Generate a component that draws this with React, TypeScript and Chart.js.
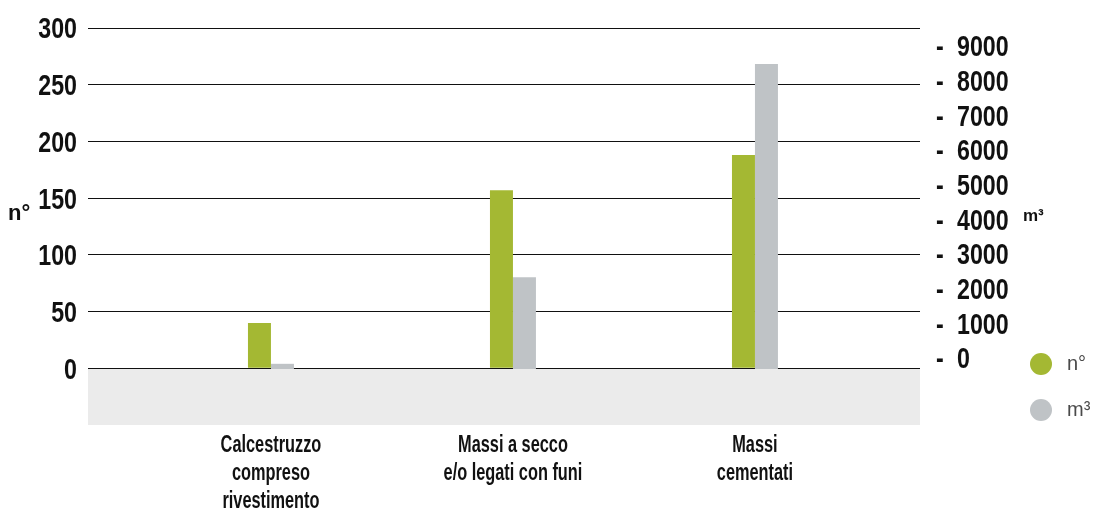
import React, { useEffect, useRef } from "react";
import { Chart, registerables } from "chart.js";

Chart.register(...registerables);

const categories: string[][] = [
  ["Calcestruzzo", "compreso", "rivestimento"],
  ["Massi a secco", "e/o legati con funi"],
  ["Massi", "cementati"],
];
const countValues = [40, 157, 188];
const volumeValues = [150, 2650, 8800];
const leftTicks = [0, 50, 100, 150, 200, 250, 300];
const rightTicks = [0, 1000, 2000, 3000, 4000, 5000, 6000, 7000, 8000, 9000];
const seriesNames = ["n°", "m³"];
const seriesColors = ["#a4b833", "#bfc3c6"];

const FONT = "'Liberation Sans', Arial, sans-serif";

function narrowText(
  ctx: CanvasRenderingContext2D,
  text: string,
  x: number,
  y: number,
  align: CanvasTextAlign,
  font: string,
  sx: number
) {
  ctx.save();
  ctx.translate(x, y);
  ctx.scale(sx, 1);
  ctx.font = font;
  ctx.textAlign = align;
  ctx.textBaseline = "alphabetic";
  ctx.fillText(text, 0, 0);
  ctx.restore();
}

export default function App() {
  const ref = useRef<HTMLCanvasElement | null>(null);
  useEffect(() => {
    document.body.style.margin = "0";
    const canvas = ref.current;
    if (!canvas) return;

    const decor = {
      id: "decor",
      beforeDraw(chart: any) {
        const { ctx, chartArea } = chart;
        const y = chart.scales.y;
        const zero = y.getPixelForValue(0);
        ctx.save();
        ctx.fillStyle = "#ebebeb";
        ctx.fillRect(chartArea.left, zero, chartArea.right - chartArea.left, chartArea.bottom - zero);
        ctx.restore();
      },
      afterDraw(chart: any) {
        const { ctx, chartArea } = chart;
        const sx = chart.scales.x;
        const sy = chart.scales.y;
        const sy1 = chart.scales.y1;
        ctx.save();
        ctx.fillStyle = "#111";
        // left tick labels
        const tickFont = `bold 29px ${FONT}`;
        sy.ticks.forEach((t: any) => {
          const py = sy.getPixelForValue(t.value);
          narrowText(ctx, String(t.value), chartArea.left - 11, py + 10.4, "right", tickFont, 0.8);
        });
        // right tick labels
        sy1.ticks.forEach((t: any) => {
          const py = sy1.getPixelForValue(t.value) - 11;
          narrowText(ctx, "-", chartArea.right + 16, py + 10.4, "left", tickFont, 0.8);
          narrowText(ctx, String(t.value), chartArea.right + 37, py + 10.4, "left", tickFont, 0.8);
        });
        // category labels
        const catFont = `bold 23px ${FONT}`;
        categories.forEach((lines, i) => {
          const px = sx.getPixelForValue(i);
          lines.forEach((line, j) => {
            narrowText(ctx, line, px, chartArea.bottom + 27 + j * 28, "center", catFont, 0.71);
          });
        });
        // axis titles
        ctx.textBaseline = "middle";
        ctx.textAlign = "left";
        ctx.font = `bold 22px ${FONT}`;
        ctx.fillText(seriesNames[0], 8, 214);
        ctx.font = `bold 17px ${FONT}`;
        ctx.fillText(seriesNames[1], chartArea.right + 103, 216);
        // legend
        seriesNames.forEach((name, i) => {
          const cy = 364 + i * 46;
          const cx = chartArea.right + 121;
          ctx.beginPath();
          ctx.fillStyle = seriesColors[i];
          ctx.arc(cx, cy, 11, 0, Math.PI * 2);
          ctx.fill();
          ctx.fillStyle = "#4a4a4a";
          ctx.font = `20px ${FONT}`;
          ctx.textBaseline = "middle";
          ctx.fillText(name, cx + 26, cy);
        });
        ctx.restore();
      },
    };

    const chart = new Chart(canvas, {
      type: "bar",
      data: {
        datasets: [
          {
            label: seriesNames[0],
            data: countValues.map((v, i) => ({ x: i, y: v })),
            backgroundColor: seriesColors[0],
            yAxisID: "y",
            categoryPercentage: 0.19,
            barPercentage: 1,
          },
          {
            label: seriesNames[1],
            data: volumeValues.map((v, i) => ({ x: i, y: v })),
            backgroundColor: seriesColors[1],
            yAxisID: "y1",
            categoryPercentage: 0.19,
            barPercentage: 1,
          },
        ],
      },
      options: {
        animation: false,
        responsive: true,
        maintainAspectRatio: false,
        layout: { padding: { top: 28, left: 0, right: 0, bottom: 0 } },
        plugins: { legend: { display: false }, tooltip: { enabled: false } },
        scales: {
          x: {
            type: "linear",
            offset: false,
            min: -0.756,
            max: 2.682,
            grid: { display: false, drawTicks: false },
            border: { display: false },
            afterBuildTicks: (s: any) => {
              s.ticks = categories.map((_, i) => ({ value: i }));
            },
            afterFit: (s: any) => {
              s.height = 87;
            },
            ticks: { display: false },
          },
          y: {
            position: "left",
            min: -50,
            max: 300,
            grid: { color: "#111", lineWidth: 1, drawTicks: false },
            border: { display: false },
            afterBuildTicks: (s: any) => {
              s.ticks = leftTicks.map((v) => ({ value: v }));
            },
            afterFit: (s: any) => {
              s.width = 88;
            },
            ticks: { display: false },
          },
          y1: {
            position: "right",
            min: -1615,
            max: 9837,
            grid: { display: false, drawTicks: false },
            border: { display: false },
            afterBuildTicks: (s: any) => {
              s.ticks = rightTicks.map((v) => ({ value: v }));
            },
            afterFit: (s: any) => {
              s.width = 174;
            },
            ticks: { display: false },
          },
        },
      },
      plugins: [decor],
    });
    return () => chart.destroy();
  }, []);

  return (
    <div style={{ position: "relative", width: 1094, height: 512 }}>
      <canvas ref={ref} />
    </div>
  );
}
